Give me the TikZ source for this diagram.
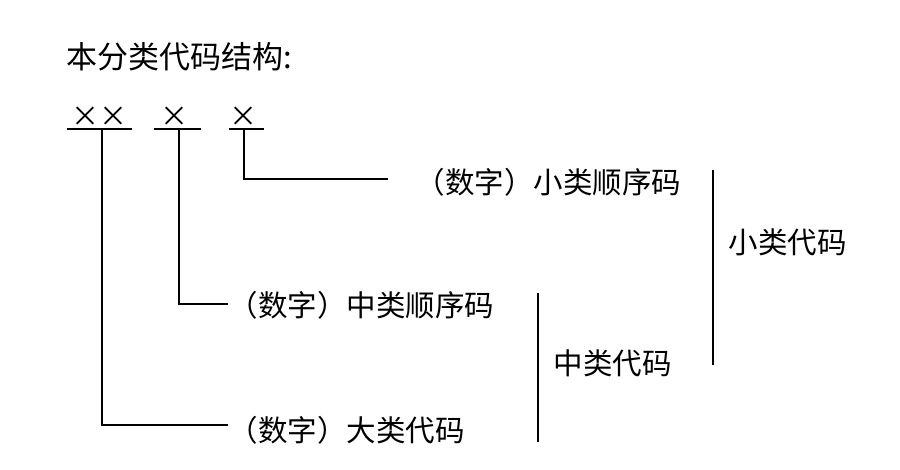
\documentclass[tikz,border=0pt]{standalone}
\usepackage{fontspec}
\setmainfont{Noto Sans CJK SC}

\begin{document}
\begin{tikzpicture}
  [x=1pt,y=-1pt,line width=1.1pt,
   every node/.style={inner sep=0pt,font=\fontsize{29.5}{30}\selectfont},
   lbl/.style={anchor=west},
   cross/.style={font=\fontsize{28}{28}\selectfont}]
  \useasboundingbox (0,0) rectangle (900,469);

  \node (title) at (66,57) [lbl,font=\fontsize{31}{31}\selectfont] {本分类代码结构:};

  \node (d1) at (85,117)  [cross] {×};
  \node (d2) at (113,117) [cross] {×};
  \node (d3) at (174,117) [cross] {×};
  \node (d4) at (243,117) [cross] {×};
  \draw (67,129) -- (132,129);
  \draw (154,129) -- (201,129);
  \draw (229,129) -- (264,129);

  \coordinate (c1) at (102,129);
  \coordinate (c2) at (179,129);
  \coordinate (c3) at (244,129);

  \node (big)   at (228,430) [lbl] {（数字）大类代码};
  \node (mid)   at (228,305) [lbl] {（数字）中类顺序码};
  \node (small) at (415,182) [lbl] {（数字）小类顺序码};
  \coordinate (e3) at (388,179);

  \draw (c1) |- ([yshift=5pt]big.west);
  \draw (c2) |- ([yshift=1pt]mid.west);
  \draw (c3) |- (e3);

  \draw (713,170) -- (713,365);
  \node (sgrp) at (728,242) [lbl] {小类代码};
  \draw (538,293) -- (538,442);
  \node (mgrp) at (553,363) [lbl] {中类代码};
\end{tikzpicture}
\end{document}
